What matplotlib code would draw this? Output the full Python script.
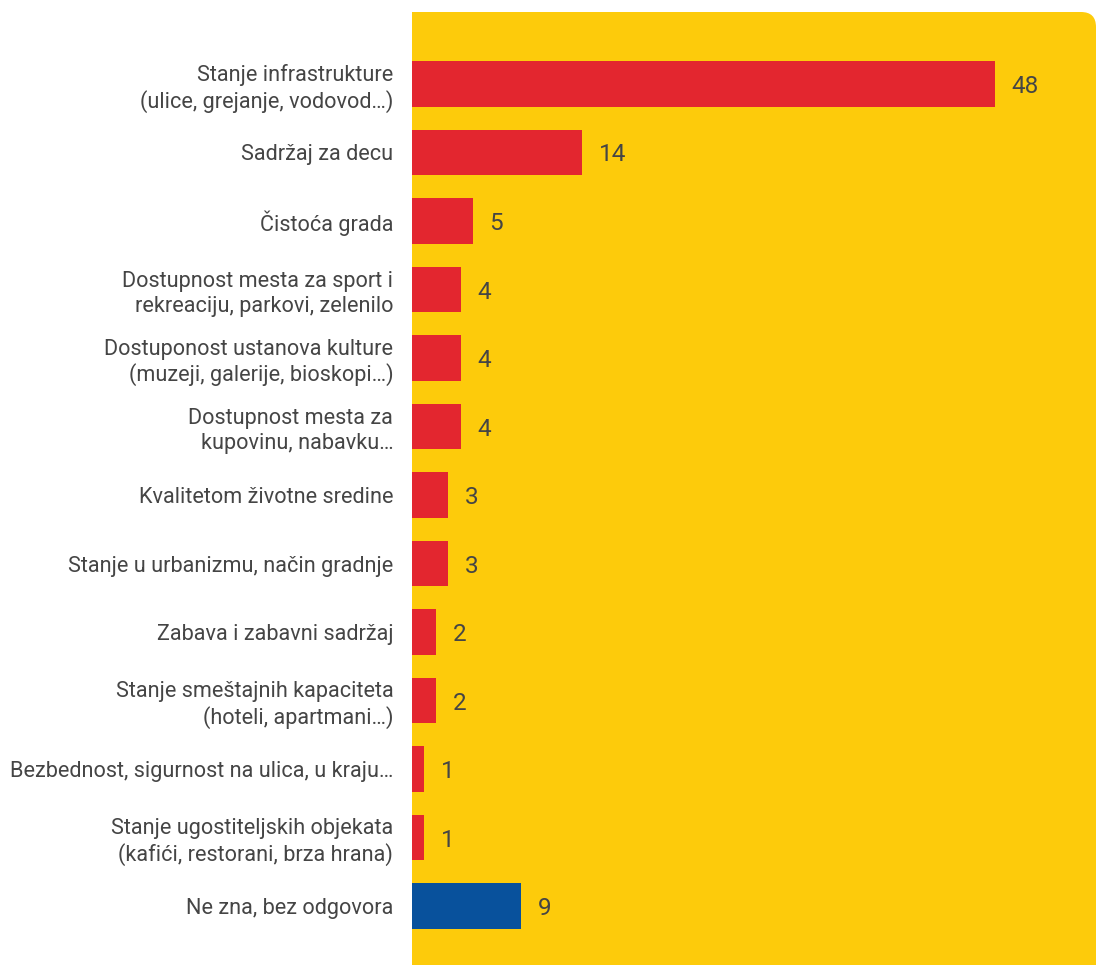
import matplotlib
matplotlib.use("Agg")
import matplotlib.pyplot as plt
from matplotlib.patches import FancyBboxPatch, Rectangle

categories = [
    "Stanje infrastrukture\n(ulice, grejanje, vodovod…)",
    "Sadržaj za decu",
    "Čistoća grada",
    "Dostupnost mesta za sport i\nrekreaciju, parkovi, zelenilo",
    "Dostuponost ustanova kulture\n(muzeji, galerije, bioskopi…)",
    "Dostupnost mesta za\nkupovinu, nabavku…",
    "Kvalitetom životne sredine",
    "Stanje u urbanizmu, način gradnje",
    "Zabava i zabavni sadržaj",
    "Stanje smeštajnih kapaciteta\n(hoteli, apartmani…)",
    "Bezbednost, sigurnost na ulica, u kraju…",
    "Stanje ugostiteljskih objekata\n(kafići, restorani, brza hrana)",
    "Ne zna, bez odgovora",
]
values = [48, 14, 5, 4, 4, 4, 3, 3, 2, 2, 1, 1, 9]
bar_colors = ["#E3262F"] * 12 + ["#08519C"]

YELLOW = "#FDCB0B"
TEXT = "#454545"

plt.rcParams['font.family'] = ['Roboto', 'DejaVu Sans']

W, H = 10.96, 9.65
fig = plt.figure(figsize=(W, H), dpi=100)
fig.patch.set_facecolor("white")

# background panel with rounded top-right corner
px = 1 / 100
left_in = 412 * px
top_in = (965 - 12) * px
r = 0.15
fig.patches.append(FancyBboxPatch((left_in, -0.5), W - left_in, top_in + 0.5,
                                  boxstyle=f"round,pad=0,rounding_size={r}",
                                  transform=fig.dpi_scale_trans,
                                  facecolor=YELLOW, edgecolor="none", zorder=0))
fig.patches.append(Rectangle((left_in, -0.5), W - left_in - 0.5, top_in + 0.5,
                             transform=fig.dpi_scale_trans,
                             facecolor=YELLOW, edgecolor="none", zorder=0))

ax = fig.add_axes([412 / 1096, 0, 684 / 1096, 953 / 965])
ax.set_zorder(2)
ax.set_facecolor("none")

y = list(range(len(categories)))
ax.barh(y, values, height=0.67, color=bar_colors, zorder=2)

ax.set_ylim(12.861, -1.051)
ax.set_xlim(0, 684 / 12.146)

ax.set_yticks(y)
ax.set_yticklabels(categories, fontsize=15.6, color=TEXT, linespacing=1.22)
ax.tick_params(axis="y", length=0, pad=13.5)
ax.set_xticks([])
for s in ax.spines.values():
    s.set_visible(False)

for yi, v in zip(y, values):
    ax.annotate(str(v), xy=(v, yi), xytext=(12, 0), textcoords="offset points",
                ha="left", va="center_baseline", fontsize=17.5, color=TEXT)

fig.savefig("out.png", dpi=100, facecolor="white")
